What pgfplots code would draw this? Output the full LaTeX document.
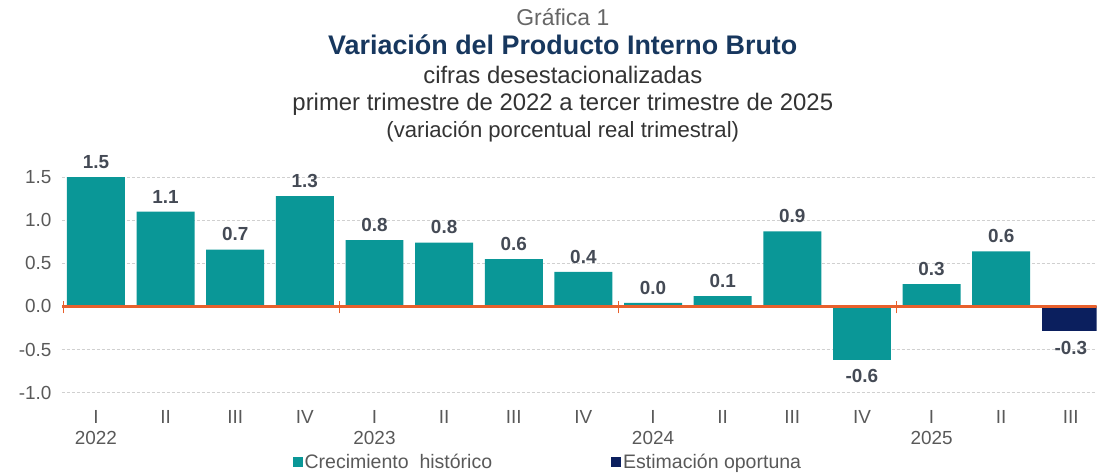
\documentclass[border=0pt]{standalone}
\usepackage{pgfplots}
\usepackage{pgfplotstable}
\pgfplotsset{compat=1.18}
\usepackage{fontspec}
\setmainfont{Liberation Sans}
\definecolor{tealbar}{HTML}{0A9797}
\definecolor{navybar}{HTML}{0B1F5E}
\definecolor{zeroline}{HTML}{E8602C}
\definecolor{ticktext}{HTML}{595959}
\definecolor{labtext}{HTML}{444A55}
\definecolor{titlecol}{HTML}{17375E}
\definecolor{subcol}{HTML}{333333}
\definecolor{gridcol}{HTML}{D0D0D0}

\pgfplotstableread{
x y lab
0 1.50 1.5
1 1.10 1.1
2 0.66 0.7
3 1.28 1.3
4 0.77 0.8
5 0.74 0.8
6 0.55 0.6
7 0.40 0.4
8 0.04 0.0
9 0.12 0.1
10 0.87 0.9
12 0.26 0.3
13 0.64 0.6
}\histpos
\pgfplotstableread{
x y lab
11 -0.62 -0.6
}\histneg
\pgfplotstableread{
x y lab
14 -0.29 -0.3
}\est

\begin{document}
\begin{tikzpicture}
\begin{axis}[
  scale only axis,
  width=1035bp, height=215.4bp,
  xmin=-0.488, xmax=14.37,
  ymin=-1, ymax=1.5,
  axis line style={draw=none},
  major tick length=0pt,
  ytick={-1,-0.5,0,0.5,1,1.5},
  yticklabel style={/pgf/number format/fixed,/pgf/number format/fixed zerofill,/pgf/number format/precision=1, xshift=-7bp},
  /pgf/number format/assume math mode=true,
  ymajorgrids,
  grid style={gridcol, dash pattern=on 3bp off 2bp, line width=0.8bp},
  xtick={0,...,14},
  xticklabels={I\\2022,II,III,IV,I\\2023,II,III,IV,I\\2024,II,III,IV,I\\2025,II,III},
  xticklabel style={align=center, yshift=-14bp},
  tick label style={font=\fontsize{19}{22}\selectfont, text=ticktext},
  ybar, bar width=58bp,
  nodes near coords,
  point meta=explicit symbolic,
  nodes near coords style={font=\bfseries\fontsize{19}{19}\selectfont, text=labtext},
  legend style={at={(0.4696,-0.322)}, anchor=center, draw=none, fill=none,
    legend columns=2, font=\fontsize{19.6}{19.6}\selectfont, text=ticktext,
    /tikz/every even column/.append style={column sep=117bp},
    inner sep=0pt},
  legend cell align=left,
]
\addplot[draw=none, fill=tealbar, bar shift=0pt,
  nodes near coords style={anchor=south, yshift=5bp},
  legend image code/.code={\fill[tealbar] (0bp,-5bp) rectangle (10bp,5bp);}]
  table[x=x, y=y, meta=lab] {\histpos};
\addlegendentry{Crecimiento\ \ histórico}
\addplot[draw=none, fill=navybar, bar shift=0pt,
  nodes near coords style={anchor=north, yshift=-6bp},
  legend image code/.code={\fill[navybar] (0bp,-5bp) rectangle (10bp,5bp);}]
  table[x=x, y=y, meta=lab] {\est};
\addlegendentry{Estimación oportuna}
\addplot[draw=none, fill=tealbar, bar shift=0pt, forget plot,
  nodes near coords style={anchor=north, yshift=-6bp}]
  table[x=x, y=y, meta=lab] {\histneg};
\draw[zeroline, line width=2.2bp] (axis cs:-0.488,0) -- (axis cs:14.37,0);
\pgfplotsinvokeforeach{-0.47,3.5,7.5,11.5}{
  \draw[zeroline, line width=1.4bp] ([yshift=-7bp]axis cs:#1,0) -- ([yshift=5bp]axis cs:#1,0);
}
\end{axis}
\path[use as bounding box] (-62bp,-81.3bp) rectangle (1035bp,392.7bp);
\node[anchor=base, text=gray!80!black, font=\fontsize{23}{23}\selectfont] at (501bp,366.7bp) {Gráfica 1};
\node[anchor=base, text=titlecol, font=\bfseries\fontsize{27}{27}\selectfont] at (501bp,337.7bp) {Variación del Producto Interno Bruto};
\node[anchor=base, text=subcol, font=\fontsize{24}{24}\selectfont] at (501bp,308.7bp) {cifras desestacionalizadas};
\node[anchor=base, text=subcol, font=\fontsize{24}{24}\selectfont] at (501bp,281.7bp) {primer trimestre de 2022 a tercer trimestre de 2025};
\node[anchor=base, text=subcol, font=\fontsize{22.2}{22.2}\selectfont] at (501bp,254.7bp) {(variación porcentual real trimestral)};
\end{tikzpicture}
\end{document}
